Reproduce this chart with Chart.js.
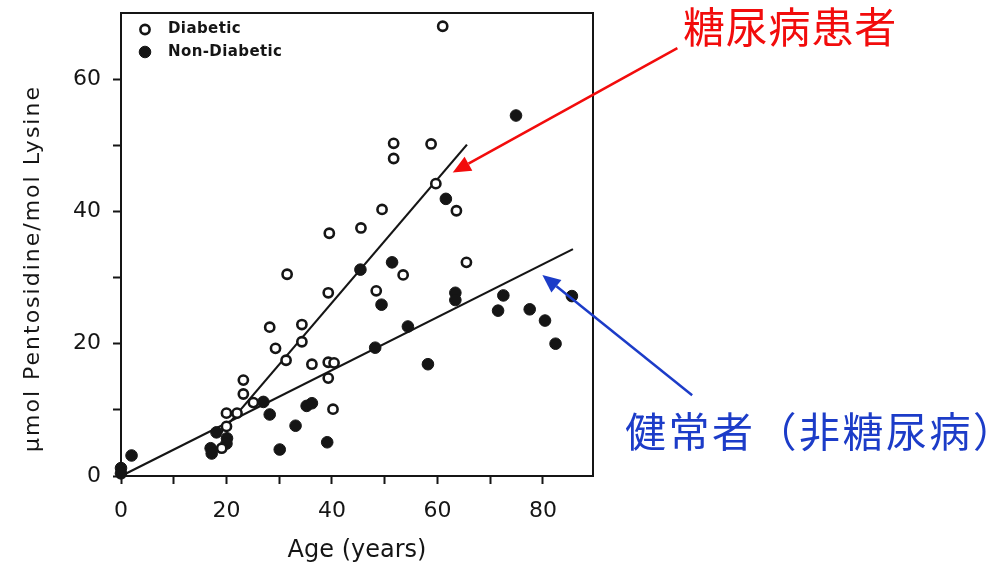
<!DOCTYPE html>
<html>
<head>
<meta charset="utf-8">
<script src="https://cdn.jsdelivr.net/npm/chart.js@4.4.0/dist/chart.umd.min.js"></script>
<style>
  html, body { margin: 0; padding: 0; background: #fff; }
  #wrap { position: relative; width: 1004px; height: 565px; overflow: hidden; }
  #c { position: absolute; left: 0; top: 0; }
  .note { position: absolute; white-space: nowrap; line-height: 1;
          font-family: "Noto Sans CJK JP", "Noto Sans CJK SC", sans-serif;
          text-spacing-trim: space-all; }
  #noteDiabetic { left: 683px; top: 4px; font-size: 42px; letter-spacing: 0.8px; color: #f20c0c; }
  #noteHealthy { left: 625px; top: 409px; font-size: 41px; letter-spacing: 2.5px; color: #1c3cc8; }
</style>
</head>
<body>
<div id="wrap">
  <canvas id="c" width="1004" height="565"></canvas>
  <div class="note" id="noteDiabetic">糖尿病患者</div>
  <div class="note" id="noteHealthy">健常者（非糖尿病）</div>
</div>
<script>
// Skin collagen pentosidine by age, diabetic subjects
const diabeticAge = [19.1, 20.0, 20.0, 22.0, 23.2, 23.2, 25.1, 28.2, 29.3, 31.5, 31.3,
  34.3, 34.3, 36.2, 39.3, 40.4, 39.3, 40.2, 39.3, 39.5, 45.5, 48.4, 49.5, 51.7, 51.7,
  53.5, 58.8, 59.7, 61.0, 63.6, 65.5];
const diabeticPentosidine = [4.2, 7.5, 9.5, 9.5, 12.4, 14.5, 11.1, 22.5, 19.3, 30.5, 17.5,
  22.9, 20.3, 16.9, 17.2, 17.1, 14.8, 10.1, 27.7, 36.7, 37.5, 28.0, 40.3, 50.3, 48.0,
  30.4, 50.2, 44.2, 68.0, 40.1, 32.3];

// Same measurement, non-diabetic subjects
const nonDiabeticAge = [0, 0, 2.0, 17.0, 17.2, 18.1, 20.1, 20.0, 27.0, 28.2, 30.1, 33.1,
  35.2, 36.2, 39.1, 45.4, 48.2, 49.4, 51.4, 54.4, 58.2, 61.6, 63.4, 63.4, 71.5, 72.5,
  74.9, 77.5, 80.4, 82.4, 85.5];
const nonDiabeticPentosidine = [1.2, 0.4, 3.1, 4.2, 3.4, 6.6, 5.7, 4.9, 11.2, 9.3, 4.0, 7.6,
  10.6, 11.0, 5.1, 31.2, 19.4, 25.9, 32.3, 22.6, 16.9, 41.9, 27.7, 26.6, 25.0, 27.3,
  54.5, 25.2, 23.5, 20.0, 27.2];

// Regression lines (end points)
const diabeticFitAge = [19.0, 65.6];
const diabeticFitValue = [6.6, 50.1];
const nonDiabeticFitAge = [0.5, 85.7];
const nonDiabeticFitValue = [0.2, 34.3];

// Labels
const seriesNames = ['Diabetic', 'Non-Diabetic'];
const xTickLabels = [0, 20, 40, 60, 80];
const yTickLabels = [0, 20, 40, 60];
const xTitle = 'Age (years)';
const yTitle = 'μmol Pentosidine/mol Lysine';

const ink = '#151515';
const fontFamily = '"DejaVu Sans", sans-serif';

const toPoints = (xs, ys) => xs.map((x, i) => ({ x, y: ys[i] }));

// Callout arrows, given in axis units (tail -> head)
const callouts = [
  { from: [105.5, 64.7], to: [62.9, 45.9], color: '#f20c0c' },
  { from: [108.3, 12.2], to: [79.9, 30.4], color: '#1c3cc8' }
];

const framePlugin = {
  id: 'frame',
  beforeDatasetsDraw(chart) {
    const { ctx, chartArea: a } = chart;
    ctx.save();
    ctx.strokeStyle = ink;
    ctx.lineWidth = 2;
    ctx.strokeRect(a.left, a.top, a.right - a.left, a.bottom - a.top);
    ctx.restore();
  }
};

const legendPlugin = {
  id: 'insetLegend',
  afterDatasetsDraw(chart) {
    const { ctx } = chart;
    ctx.save();
    [0, 1].forEach((di, r) => {
      const ds = chart.data.datasets[di];
      const cy = 29.5 + r * 22.5;
      const cx = 145;
      ctx.beginPath();
      ctx.arc(cx, cy, ds.pointRadius, 0, Math.PI * 2);
      ctx.fillStyle = ds.pointBackgroundColor;
      ctx.fill();
      ctx.lineWidth = ds.pointBorderWidth;
      ctx.strokeStyle = ds.pointBorderColor;
      ctx.stroke();
      ctx.fillStyle = ink;
      ctx.font = 'bold 15px ' + fontFamily;
      ctx.letterSpacing = '0.4px';
      ctx.textAlign = 'left';
      ctx.textBaseline = 'middle';
      ctx.fillText(ds.label, 168, cy);
    });
    ctx.restore();
  }
};

const yTitlePlugin = {
  id: 'yTitle',
  afterDraw(chart) {
    const { ctx, chartArea: a } = chart;
    ctx.save();
    ctx.translate(33, (a.top + a.bottom) / 2 + 24);
    ctx.rotate(-Math.PI / 2);
    ctx.font = '22px ' + fontFamily;
    ctx.letterSpacing = '2px';
    ctx.fillStyle = ink;
    ctx.textAlign = 'center';
    ctx.textBaseline = 'middle';
    ctx.fillText(yTitle, 0, 0);
    ctx.restore();
  }
};

const calloutPlugin = {
  id: 'callouts',
  afterDraw(chart) {
    const { ctx, scales: { x, y } } = chart;
    ctx.save();
    callouts.forEach(c => {
      const x0 = x.getPixelForValue(c.from[0]), y0 = y.getPixelForValue(c.from[1]);
      const x1 = x.getPixelForValue(c.to[0]), y1 = y.getPixelForValue(c.to[1]);
      const ang = Math.atan2(y1 - y0, x1 - x0);
      const headLen = 18, headHalf = 8;
      const bx = x1 - headLen * Math.cos(ang), by = y1 - headLen * Math.sin(ang);
      ctx.strokeStyle = c.color;
      ctx.fillStyle = c.color;
      ctx.lineWidth = 2.5;
      ctx.beginPath();
      ctx.moveTo(x0, y0);
      ctx.lineTo(bx, by);
      ctx.stroke();
      ctx.beginPath();
      ctx.moveTo(x1, y1);
      ctx.lineTo(bx + headHalf * Math.sin(ang), by - headHalf * Math.cos(ang));
      ctx.lineTo(bx - headHalf * Math.sin(ang), by + headHalf * Math.cos(ang));
      ctx.closePath();
      ctx.fill();
    });
    ctx.restore();
  }
};

const tickFont = { family: fontFamily, size: 22 };

new Chart(document.getElementById('c'), {
  type: 'scatter',
  data: {
    datasets: [
      {
        label: seriesNames[0],
        data: toPoints(diabeticAge, diabeticPentosidine),
        pointRadius: 4.6,
        pointBorderWidth: 2.6,
        pointBackgroundColor: '#ffffff',
        pointBorderColor: ink,
        showLine: false,
        clip: false,
        order: 1
      },
      {
        label: seriesNames[1],
        data: toPoints(nonDiabeticAge, nonDiabeticPentosidine),
        pointRadius: 5.8,
        pointBorderWidth: 1,
        pointBackgroundColor: ink,
        pointBorderColor: ink,
        showLine: false,
        clip: false,
        order: 2
      },
      {
        label: seriesNames[0] + ' fit',
        data: toPoints(diabeticFitAge, diabeticFitValue),
        showLine: true,
        borderColor: ink,
        borderWidth: 2.2,
        pointRadius: 0,
        order: 3
      },
      {
        label: seriesNames[1] + ' fit',
        data: toPoints(nonDiabeticFitAge, nonDiabeticFitValue),
        showLine: true,
        borderColor: ink,
        borderWidth: 2.2,
        pointRadius: 0,
        order: 4
      }
    ]
  },
  options: {
    responsive: false,
    animation: false,
    devicePixelRatio: 1,
    layout: { padding: { top: 13, right: 411, bottom: 0, left: 0 } },
    plugins: { legend: { display: false }, tooltip: { enabled: false } },
    scales: {
      x: {
        type: 'linear',
        position: 'bottom',
        min: 0,
        max: 89.5,
        ticks: {
          stepSize: 10,
          includeBounds: false,
          autoSkip: false,
          maxRotation: 0,
          padding: 14,
          color: ink,
          font: tickFont,
          callback: v => (xTickLabels.includes(v) ? String(v) : '')
        },
        grid: { drawOnChartArea: false, drawTicks: true, tickLength: 8, tickWidth: 2, tickColor: ink },
        border: { display: true, color: ink, width: 2 },
        title: {
          display: true,
          text: xTitle,
          color: ink,
          font: { family: fontFamily, size: 24 },
          padding: { top: 0, bottom: 0 }
        },
        afterFit(scale) { scale.height = 89; scale.paddingLeft = 0; }
      },
      y: {
        type: 'linear',
        position: 'left',
        min: 0,
        max: 70,
        ticks: {
          stepSize: 10,
          includeBounds: false,
          autoSkip: false,
          padding: 12,
          color: ink,
          font: tickFont,
          callback: v => (yTickLabels.includes(v) ? String(v) : '')
        },
        grid: {
          drawOnChartArea: false,
          drawTicks: true,
          tickLength: 8,
          tickWidth: 2,
          tickColor: c => (c.tick && c.tick.value === 70 ? 'rgba(0,0,0,0)' : ink)
        },
        border: { display: true, color: ink, width: 2 },
        afterFit(scale) { scale.width = 121; scale.paddingTop = 0; scale.paddingBottom = 0; }
      }
    }
  },
  plugins: [framePlugin, legendPlugin, yTitlePlugin, calloutPlugin]
});
</script>
</body>
</html>
